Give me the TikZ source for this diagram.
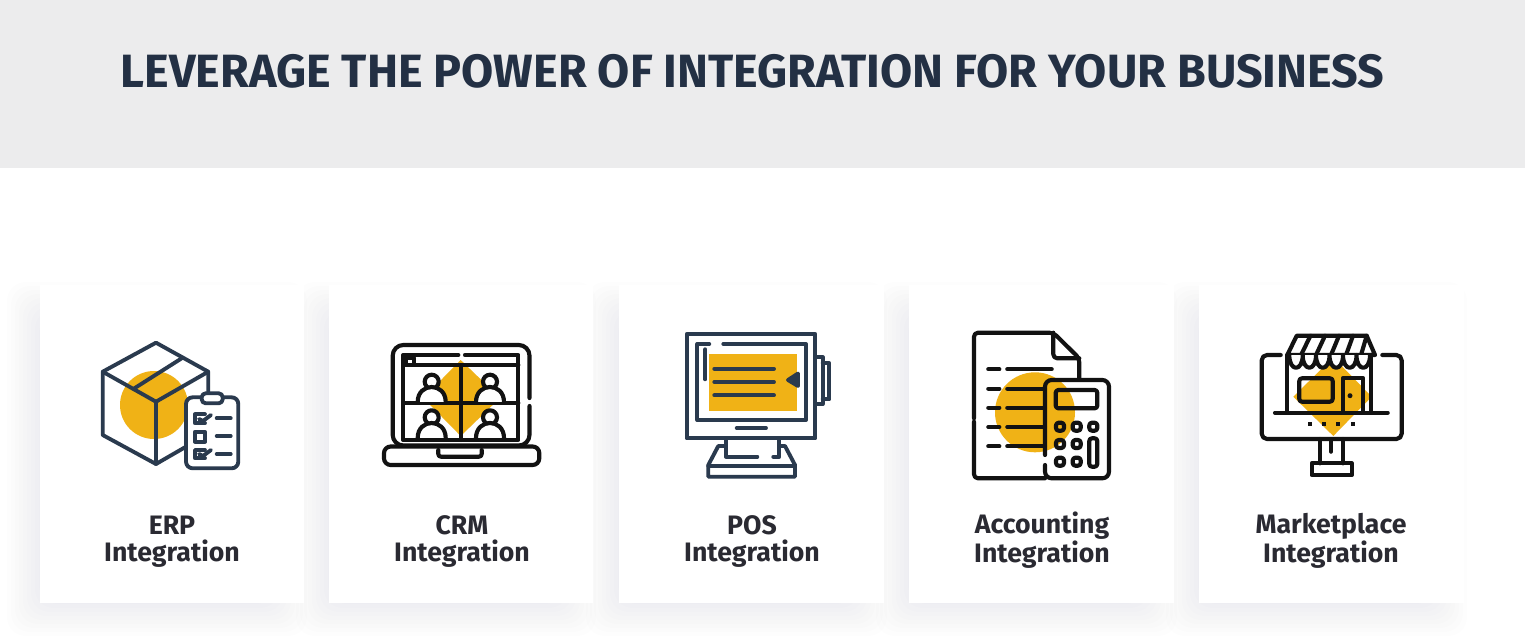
\documentclass[tikz,border=0pt]{standalone}
\usepackage{fontspec}
\setmainfont{Fira Sans}
\usetikzlibrary{calc}
\definecolor{bandgray}{HTML}{ECECED}
\definecolor{headnavy}{HTML}{233044}
\definecolor{labelink}{HTML}{2A2A32}
\definecolor{iconnavy}{HTML}{2A3A4E}
\definecolor{iconink}{HTML}{121212}
\definecolor{iconyellow}{HTML}{F0B216}
\definecolor{shadowtint}{HTML}{3C3C78}
\tikzset{
	headtext/.style={text=headnavy, font=\fontsize{35}{40}\selectfont\bfseries},
	cardtext/.style={text=labelink, align=center, font=\fontsize{20}{20.25}\selectfont\bfseries},
	navyline/.style={draw=iconnavy, line width=2.9pt, line cap=round, line join=round},
	inkline/.style={draw=iconink, line width=3.1pt, line cap=round, line join=round},
}
% soft shadow of one card: left, right edge
\def\cardbox(#1,#2){
	\foreach \grow in {-18,-14,...,18}
		\fill[shadowtint, opacity=0.009, rounded corners=14pt] ($(#1,300)+(-15-\grow,-\grow)$) rectangle ($(#2,603)+(-15+\grow,15+\grow)$);
}
\def\cardface(#1,#2){\fill[white] (#1,285) rectangle (#2,603);}
% first line of a card label, same height on every card
\def\topline{\rule{0pt}{16pt}}
% one person of the video call: head centre, foot of the body
\def\callperson(#1,#2,#3){
	\draw[inkline, fill=white] (#1,#2) circle (7);
	\draw[inkline, fill=white] ($(#1,#3)+(-14,0)$) .. controls ($(#1,#3)+(-14,-20)$) and ($(#1,#3)+(14,-20)$) .. ($(#1,#3)+(14,0)$);
}

\begin{document}
\begin{tikzpicture}[x=0.75pt, y=-0.75pt]
		%%%%% START %%%%%
		\useasboundingbox (0, 0) rectangle (1525, 640);
		\fill[white] (0, 0) rectangle (1525, 640);
		\fill[bandgray] (0, 0) rectangle (1525, 168);
		\node[headtext] (headline) at (752.5, 71) {LEVERAGE THE POWER OF INTEGRATION FOR YOUR BUSINESS};
		
		\cardbox(40,304)
		\cardbox(329,593)
		\cardbox(619,884)
		\cardbox(909,1174)
		\cardbox(1199,1464)
		\cardface(40,304)
		\cardface(329,593)
		\cardface(619,884)
		\cardface(909,1174)
		\cardface(1199,1464)
		
		\node[cardtext] (erplabel) at (172, 540) {\topline ERP\\Integration};
		\node[cardtext] (crmlabel) at (462, 540) {\topline CRM\\Integration};
		\node[cardtext] (poslabel) at (752, 540) {\topline POS\\Integration};
		\node[cardtext] (acclabel) at (1042, 540) {\topline Accounting\\Integration};
		\node[cardtext] (mktlabel) at (1331, 540) {\topline Marketplace\\Integration};
		
		% box and clipboard
		\fill[iconyellow] (154, 405) circle (34);
		\draw[navyline] (156, 342.7) -- (102.7, 371.7) -- (102.7, 435) -- (156, 464) -- (186, 446.7);
		\draw[navyline] (156, 342.7) -- (208.3, 371.7) -- (208.3, 393);
		\draw[navyline] (102.7, 371.7) -- (156, 401.7) -- (208.3, 371.7);
		\draw[navyline] (156, 401.7) -- (156, 464);
		\draw[navyline] (133.3, 389) -- (181.7, 358.3);
		\draw[navyline, fill=white, rounded corners=5pt] (186, 397.3) rectangle (238.3, 468.3);
		\draw[navyline, fill=white, rounded corners=3pt] (201.7, 393.3) rectangle (222.7, 403.3);
		\draw[navyline] (205, 414.3) -- (195, 414.3) -- (195, 423.3) -- (205, 423.3);
		\draw[navyline] (199, 419) -- (203, 421) -- (211, 415);
		\draw[navyline] (195, 431.7) rectangle (205, 441.7);
		\draw[navyline] (205, 450) -- (195, 450) -- (195, 458.3) -- (205, 458.3);
		\draw[navyline] (199, 454) -- (203, 456) -- (211, 450);
		\draw[navyline] (216.7, 418.3) -- (230.7, 418.3);
		\draw[navyline] (216.7, 436) -- (230.7, 436);
		\draw[navyline] (216.7, 454) -- (230.7, 454);
		
		% laptop with video call
		\fill[iconyellow] (460.7, 360) -- (500, 398) -- (460.7, 436) -- (423.3, 398) -- cycle;
		\draw[inkline, rounded corners=8pt] (529.5, 398) -- (529.5, 345) -- (392.7, 345) -- (392.7, 445.5) -- (529.5, 445.5) -- (529.5, 406);
		\draw[inkline, rounded corners=5pt] (384, 446.5) rectangle (539.3, 465);
		\draw[inkline, rounded corners=2pt] (438.3, 450) -- (438.3, 456.7) -- (481.7, 456.7) -- (481.7, 450);
		\draw[inkline] (458.3, 355) -- (403.3, 355) -- (403.3, 440) -- (518.3, 440) -- (518.3, 355) -- (465, 355);
		\draw[inkline] (403.3, 365) -- (518.3, 365);
		\draw[inkline] (403.3, 402.7) -- (518.3, 402.7);
		\draw[inkline] (460.7, 365) -- (460.7, 440);
		\draw[inkline] (406, 358) rectangle (414, 365);
		\callperson(431.7,381.7,402)
		\callperson(490,381.7,402)
		\callperson(431.7,417.3,438)
		\callperson(490,417.3,438)
		
		% till monitor
		\fill[iconyellow] (709.3, 354) rectangle (797.3, 410.7);
		\draw[navyline] (686.7, 334) rectangle (815.3, 438.3);
		\draw[navyline] (709.3, 344) -- (697.3, 344) -- (697.3, 420) -- (806, 420) -- (806, 344) -- (723.3, 344);
		\draw[navyline] (705.3, 349.3) -- (705.3, 379.3);
		\draw[navyline] (714.3, 368.7) -- (774, 368.7);
		\draw[navyline] (714.3, 382) -- (774, 382);
		\draw[navyline] (714.3, 395.3) -- (774, 395.3);
		\draw[navyline, fill=iconnavy] (788, 380) -- (798, 373.5) -- (798, 386) -- cycle;
		\draw[navyline] (736.7, 428) -- (766, 428);
		\draw[navyline] (815.3, 357.3) -- (822.7, 357.3) -- (822.7, 404) -- (815.3, 404);
		\draw[navyline] (822.7, 363.3) -- (829.3, 363.3) -- (829.3, 399.3) -- (822.7, 399.3);
		\draw[navyline] (726, 438.3) -- (726, 456.7) -- (757.3, 456.7);
		\draw[navyline] (779.3, 438.3) -- (779.3, 456.7) -- (773.3, 456.7);
		\draw[navyline] (726, 446) -- (718.3, 446) -- (708.3, 465) -- (708.3, 476.7) -- (795, 476.7) -- (795, 465) -- (785, 446) -- (779.3, 446);
		\draw[navyline] (708.3, 466) -- (795, 466);
		
		% invoice and calculator
		\fill[iconyellow] (1035, 412.3) circle (40);
		\draw[inkline, rounded corners=3pt] (974, 418.3) -- (974, 332.7) -- (1053.3, 332.7) -- (1079.3, 358.3) -- (1079.3, 378.3);
		\draw[inkline, rounded corners=3pt] (974, 421.7) -- (974, 478.3) -- (1045, 478.3);
		\draw[inkline, rounded corners=3pt] (1053.3, 332.7) -- (1053.3, 358.3) -- (1079.3, 358.3);
		\draw[inkline] (988.3, 369.3) -- (999.3, 369.3);
		\draw[inkline] (1007.3, 369.3) -- (1051.7, 369.3);
		\draw[inkline] (988.3, 388.7) -- (999.3, 388.7);
		\draw[inkline] (1007.3, 388.7) -- (1045, 388.7);
		\draw[inkline] (988.3, 407.7) -- (999.3, 407.7);
		\draw[inkline] (1007.3, 407.7) -- (1045, 407.7);
		\draw[inkline] (988.3, 427) -- (999.3, 427);
		\draw[inkline] (1007.3, 427) -- (1045, 427);
		\draw[inkline] (988.3, 446.3) -- (999.3, 446.3);
		\draw[inkline] (1007.3, 446.3) -- (1045, 446.3);
		\draw[inkline, rounded corners=5pt] (1045, 455) -- (1045, 380) -- (1109, 380) -- (1109, 478.3) -- (1045, 478.3) -- (1045, 465);
		\draw[inkline, rounded corners=2pt] (1055.7, 390) rectangle (1097.3, 408.3);
		\draw[inkline, rounded corners=2pt] (1056, 422.7) rectangle (1064, 430.7);
		\draw[inkline, rounded corners=2pt] (1072.7, 422.7) rectangle (1080.7, 430.7);
		\draw[inkline, rounded corners=2pt] (1089.3, 422.7) rectangle (1097.3, 430.7);
		\draw[inkline, rounded corners=2pt] (1056, 440) rectangle (1064, 448);
		\draw[inkline, rounded corners=2pt] (1072.7, 440) rectangle (1080.7, 448);
		\draw[inkline, rounded corners=2pt] (1056, 457.7) rectangle (1064, 465.7);
		\draw[inkline, rounded corners=2pt] (1072.7, 457.7) rectangle (1080.7, 465.7);
		\draw[inkline, rounded corners=2pt] (1089.3, 438.3) rectangle (1097.3, 466.7);
		
		% shop in a monitor
		\fill[iconyellow] (1333.3, 357.3) -- (1371.7, 396.7) -- (1333.3, 436) -- (1293.3, 396.7) -- cycle;
		\draw[inkline, rounded corners=4pt] (1280.7, 355) -- (1261.7, 355) -- (1261.7, 439) -- (1401.7, 439) -- (1401.7, 355) -- (1382.3, 355);
		\draw[inkline] (1320, 439) -- (1320, 463.3);
		\draw[inkline] (1343.3, 439) -- (1343.3, 463.3);
		\draw[inkline] (1331, 440) -- (1331, 451.7);
		\draw[inkline] (1311.7, 463.3) rectangle (1351.7, 475);
		\draw[inkline] (1287.3, 355) -- (1287.3, 412.7);
		\draw[inkline] (1370.7, 355) -- (1370.7, 412.7);
		\draw[inkline] (1287.3, 355) -- (1296.7, 335.7) -- (1366.7, 335.7) -- (1375, 355) -- cycle;
		\draw[inkline] (1310.5, 335.7) -- (1301, 355);
		\draw[inkline] (1325, 335.7) -- (1316, 355);
		\draw[inkline] (1339, 335.7) -- (1331, 355);
		\draw[inkline] (1353, 335.7) -- (1346, 355);
		\draw[inkline] (1366.7, 335.7) -- (1361, 355);
		\draw[inkline, fill=white] (1289.3, 355) .. controls (1289.3, 372) and (1302.7, 372) .. (1302.7, 355) .. controls (1302.7, 372) and (1316, 372) .. (1316, 355) .. controls (1316, 372) and (1329.5, 372) .. (1329.5, 355) .. controls (1329.5, 372) and (1343, 372) .. (1343, 355) .. controls (1343, 372) and (1356.5, 372) .. (1356.5, 355) .. controls (1356.5, 372) and (1370, 372) .. (1370, 355);
		\draw[inkline, rounded corners=2pt] (1299.3, 378.3) rectangle (1332.7, 401.7);
		\draw[inkline] (1342.7, 411) -- (1342.7, 378.3) -- (1363.3, 378.3) -- (1363.3, 411);
		\fill[iconink] (1350, 395.7) circle (2.5);
		\draw[inkline] (1275, 412.7) -- (1387.7, 412.7);
		\fill[iconink] (1308, 422) rectangle (1312, 426);
		\fill[iconink] (1322, 422) rectangle (1326, 426);
		\fill[iconink] (1336.3, 422) rectangle (1340.3, 426);
		\fill[iconink] (1350.7, 422) rectangle (1354.7, 426);
		
		%%%%% END %%%%%
	\end{tikzpicture}
\end{document}
